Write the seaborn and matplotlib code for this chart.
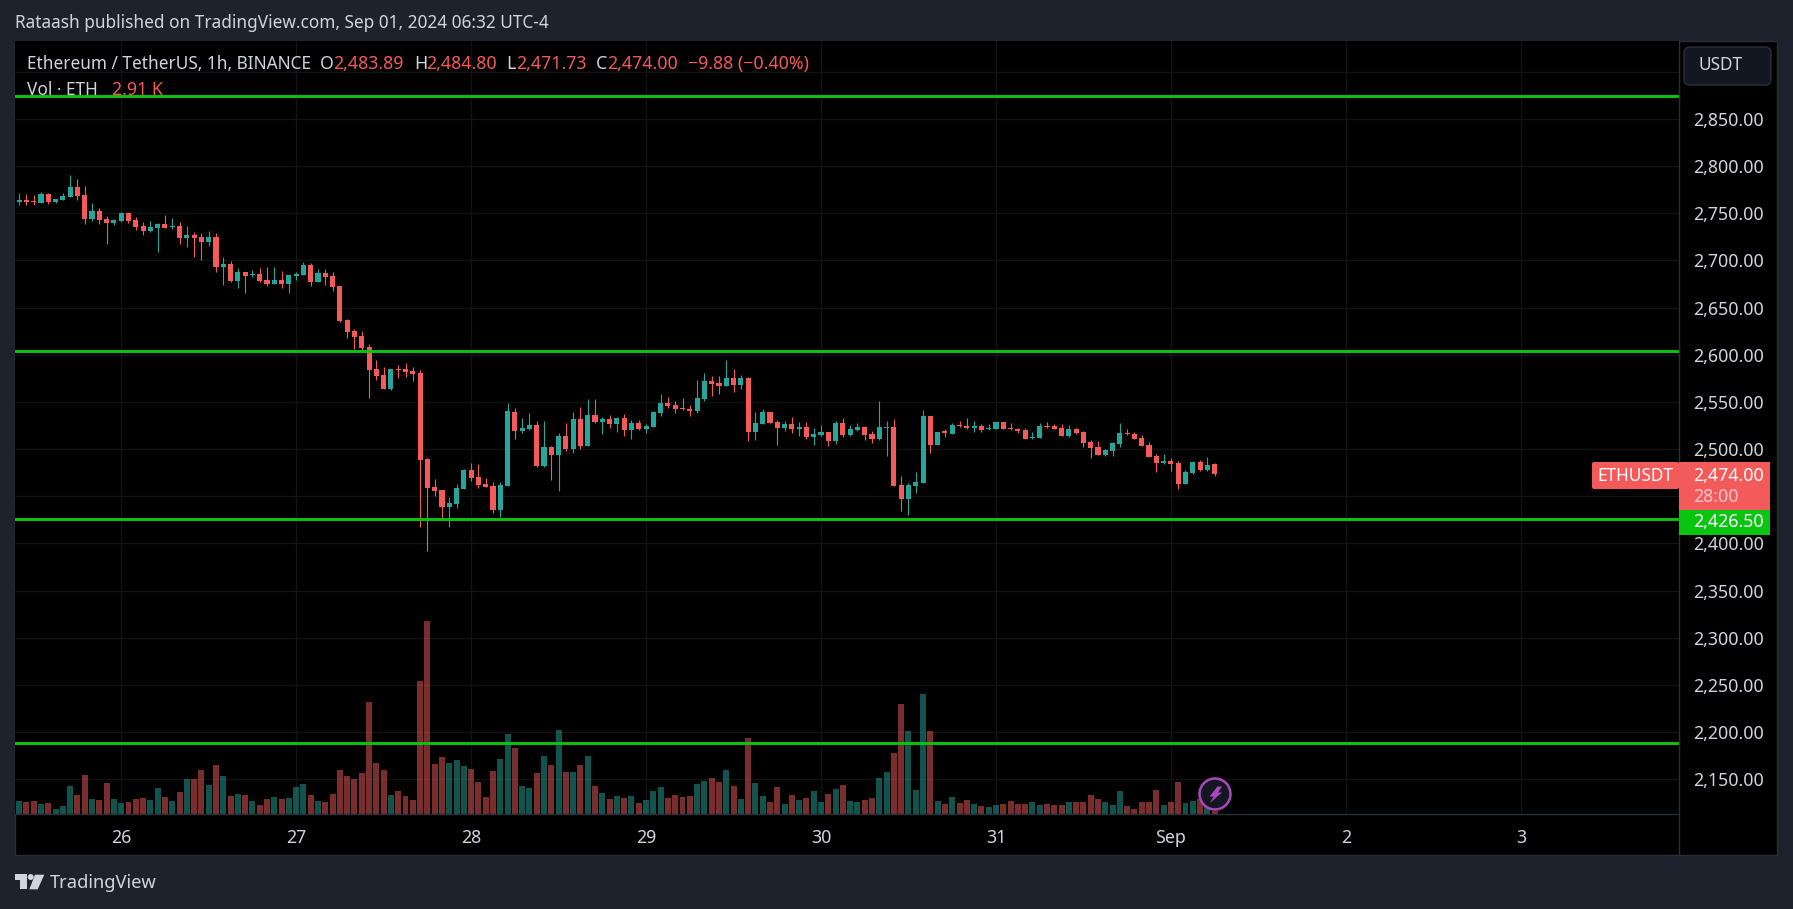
import numpy as np
import pandas as pd
import seaborn as sns
import matplotlib.pyplot as plt
from matplotlib.patches import Rectangle, FancyBboxPatch, Circle, Polygon
from matplotlib.transforms import Affine2D

W, H = 1793, 909
BG = "#1e222d"
RED = "#f45a5a"
TEAL = "#26a69a"
LEVEL = "#0ac50f"
TXT = "#d1d4dc"

# hourly candles
opens = [2762, 2764.1, 2763, 2760.9, 2770.4, 2762, 2764.1, 2767.3, 2777.9, 2769.4, 2743.9, 2752.4, 2743.9, 2739.7, 2741.8,
         2750.3, 2742.9, 2736.5, 2731.2, 2734.4, 2738.6, 2735.4, 2736.5, 2723.8, 2727, 2724.8, 2719.5, 2724.8, 2693, 2696.2,
         2678.2, 2687.7, 2684.5, 2685.6, 2679.2, 2675, 2679.2, 2675, 2683.5, 2684.5, 2695.2, 2677.1, 2686.7, 2683.5, 2672.9,
         2636.8, 2625.2, 2619.9, 2608.2, 2584.8, 2578.5, 2563.6, 2584.8, 2584.8, 2582.7, 2580.6, 2489.4, 2459.7, 2456.5, 2438.5,
         2441.7, 2457.6, 2477.7, 2470.3, 2462.9, 2460.8, 2435.3, 2460.8, 2539.2, 2519.1, 2521.2, 2525.5, 2482, 2502.1, 2493.6,
         2513.8, 2500, 2531.8, 2503.2, 2536.1, 2528.6, 2531.8, 2526.5, 2532.9, 2520.2, 2527.6, 2521.2, 2523.3, 2538.2, 2548.8,
         2546.7, 2543.5, 2542.4, 2540.3, 2553, 2572.1, 2570, 2566.8, 2575.3, 2567.9, 2575.3, 2518, 2526.5, 2539.2, 2528.6,
         2522.3, 2526.5, 2521.2, 2523.3, 2512.7, 2514.9, 2518, 2508.5, 2527.6, 2514.9, 2520.2, 2523.3, 2515.9, 2510.6, 2522.3,
         2523.3, 2461.8, 2447, 2460.8, 2464, 2535, 2504.3, 2519.1, 2515.9, 2525.5, 2524.4, 2522.3, 2524.4, 2521.2, 2521.2,
         2528.6, 2522.3, 2521.2, 2520.2, 2511.7, 2511.7, 2524.4, 2524.4, 2522.3, 2513.8, 2521.2, 2518.1, 2507.5, 2502.2, 2493.7,
         2497.9, 2505.3, 2517, 2515.9, 2511.7, 2504.3, 2492.6, 2485.2, 2487.3, 2485.2, 2462.9, 2474.6, 2486.2, 2477.8, 2483.89]
highs = [2771.9, 2770.4, 2769.4, 2772.6, 2771.5, 2765.1, 2771.5, 2790.6, 2786.4, 2778.9, 2760.9, 2755.6, 2747.1, 2743.9, 2751.4,
         2750.3, 2746.1, 2740.7, 2741.8, 2739.7, 2748.2, 2745, 2740.7, 2736.5, 2730.1, 2729.1, 2731.2, 2729.1, 2703.6, 2699.4,
         2692, 2687.7, 2689.8, 2692, 2693, 2693, 2688.8, 2684.5, 2687.7, 2698.3, 2697.3, 2690.9, 2690.9, 2687.7, 2672.9,
         2637.9, 2627.3, 2625.2, 2611.4, 2594.4, 2587, 2584.8, 2589.1, 2591.2, 2587, 2583.8, 2490.5, 2468.2, 2456.5, 2449.1,
         2462.9, 2478.8, 2485.2, 2484.1, 2469.2, 2465, 2465, 2548.8, 2543.5, 2532.9, 2538.2, 2529.7, 2529.7, 2503.2, 2517,
         2527.6, 2539.2, 2544.5, 2553, 2553, 2533.9, 2536.1, 2533.9, 2537.1, 2530.8, 2530.8, 2526.5, 2540.3, 2558.3, 2555.2,
         2550.9, 2554.1, 2546.7, 2573.2, 2580.6, 2577.4, 2577.4, 2594.4, 2584.9, 2578.5, 2576.4, 2539.2, 2542.4, 2539.2, 2530.8,
         2529.7, 2533.9, 2528.6, 2528.6, 2522.3, 2525.5, 2518, 2529.7, 2532.9, 2525.5, 2527.6, 2524.4, 2519.1, 2550.9, 2529.7,
         2531.8, 2471.4, 2464, 2475.6, 2541.4, 2535, 2518.1, 2521.2, 2527.6, 2529.7, 2532.9, 2529.7, 2526.5, 2526.5, 2528.6,
         2528.6, 2527.6, 2522.3, 2522.3, 2518.1, 2527.6, 2528.6, 2526.5, 2526.5, 2525.5, 2522.3, 2519.1, 2509.6, 2508.5, 2500,
         2507.5, 2527.6, 2521.2, 2518.1, 2514.9, 2507.5, 2494.7, 2494.7, 2490.5, 2487.3, 2477.8, 2487.3, 2488.4, 2491.5, 2484.8]
lows = [2758.8, 2758.8, 2758.8, 2760.9, 2759.8, 2760.9, 2764.1, 2767.3, 2764.1, 2738.6, 2741.8, 2738.6, 2717.4, 2737.6, 2740.7,
        2739.7, 2732.3, 2727, 2730.1, 2708.9, 2734.4, 2733.3, 2717.4, 2714.2, 2703.6, 2700.5, 2715.3, 2687.7, 2673.9, 2677.1,
        2670.8, 2665.5, 2682.4, 2677.1, 2672.9, 2675, 2670.8, 2665.5, 2679.2, 2684.5, 2672.9, 2677.1, 2673.9, 2667.6, 2634.7,
        2617.7, 2606.1, 2602.9, 2554.1, 2573.2, 2563.6, 2562.6, 2575.3, 2576.4, 2572.1, 2417.3, 2391.8, 2450.2, 2426.8, 2417.3,
        2437.4, 2457.6, 2466, 2458.6, 2459.7, 2432.1, 2427.9, 2460.8, 2510.6, 2517, 2520.2, 2480.9, 2480.9, 2467.1, 2455.5,
        2497.9, 2495.8, 2500, 2503.2, 2527.6, 2515.9, 2522.3, 2518, 2513.8, 2510.6, 2520.2, 2517, 2523.3, 2535, 2543.5,
        2538.2, 2541.4, 2535, 2538.2, 2550.9, 2556.2, 2558.3, 2566.8, 2560.5, 2563.6, 2508.5, 2509.6, 2526.5, 2527.6, 2504.3,
        2519.1, 2517, 2513.8, 2510.6, 2504.3, 2513.8, 2503.2, 2505.3, 2512.7, 2513.8, 2519.1, 2509.6, 2506.4, 2509.6, 2492.6,
        2460.8, 2434.3, 2430, 2453.3, 2464, 2495.8, 2504.3, 2512.8, 2515.9, 2523.4, 2521.2, 2518.1, 2518.1, 2520.2, 2521.2,
        2521.2, 2520.2, 2517, 2510.6, 2510.6, 2511.7, 2522.3, 2521.2, 2513.8, 2512.8, 2515.9, 2502.2, 2490.5, 2493.7, 2492.6,
        2492.6, 2502.2, 2514.9, 2510.6, 2503.2, 2491.5, 2475.6, 2484.1, 2476.7, 2457.6, 2462.9, 2473.5, 2476.7, 2476.7, 2471.73]
closes = [2764.1, 2762, 2762, 2770.4, 2762, 2765.1, 2768.3, 2777.9, 2768.3, 2743.9, 2752.4, 2742.9, 2739.7, 2742.9, 2750.3,
          2741.8, 2735.4, 2731.2, 2735.4, 2738.6, 2734.4, 2736.5, 2723.8, 2727, 2723.8, 2719.5, 2724.8, 2693, 2696.2, 2678.2,
          2687.7, 2683.5, 2685.6, 2678.2, 2675, 2679.2, 2675, 2684.5, 2685.6, 2695.2, 2677.1, 2686.7, 2682.4, 2671.8, 2635.8,
          2624.1, 2618.9, 2607.2, 2583.8, 2577.4, 2563.6, 2584.8, 2583.8, 2581.7, 2579.5, 2488.3, 2458.6, 2455.5, 2438.5, 2442.7,
          2458.6, 2477.7, 2469.2, 2461.8, 2459.7, 2435.3, 2461.8, 2540.3, 2519.1, 2522.3, 2525.5, 2482, 2502.1, 2493.6, 2513.8,
          2500, 2531.8, 2503.2, 2536.1, 2528.6, 2531.8, 2526.5, 2532.9, 2520.2, 2527.6, 2521.2, 2524.4, 2539.2, 2548.8, 2545.6,
          2542.4, 2542.4, 2540.3, 2554.1, 2572.1, 2568.9, 2566.8, 2575.3, 2567.9, 2575.3, 2518, 2527.6, 2539.2, 2527.6, 2522.3,
          2526.5, 2521.2, 2523.3, 2512.7, 2515.9, 2518, 2508.5, 2527.6, 2514.9, 2521.2, 2523.3, 2514.9, 2510.6, 2523.3, 2523.3,
          2460.8, 2447, 2461.8, 2465, 2535, 2504.3, 2518.1, 2517, 2525.5, 2524.4, 2522.3, 2524.4, 2520.2, 2522.3, 2528.6,
          2521.2, 2521.2, 2519.1, 2510.6, 2512.8, 2524.4, 2523.4, 2521.2, 2513.8, 2521.2, 2517, 2506.4, 2501.1, 2493.7, 2499,
          2506.4, 2517, 2515.9, 2510.6, 2503.2, 2491.5, 2485.2, 2487.3, 2484.1, 2462.9, 2475.6, 2486.2, 2477.8, 2483.1, 2474]
# volume, thousands of ETH
volumes = [11.7, 10.8, 11.7, 9, 9.9, 4.5, 7.2, 25.2, 17.1, 35.1, 13.5, 12.6, 27.9, 13.5, 9.9,
           10.8, 13.5, 14.4, 12.6, 23.4, 15.3, 11.7, 19.8, 31.5, 31.5, 39.6, 26.1, 44.1, 34.2, 16.2,
           18, 17.1, 11.7, 8.1, 13.5, 15.3, 13.5, 14.4, 24.3, 27, 17.1, 11.7, 10.8, 18, 39.6,
           34.2, 31.5, 36.9, 100.8, 45.9, 39.6, 17.1, 20.7, 16.2, 12.6, 119.7, 173.7, 45, 51.3, 45.9,
           48.6, 43.2, 40.5, 28.8, 15.3, 38.7, 49.5, 72, 59.4, 25.2, 23.4, 36.9, 52.2, 44.1, 75.6,
           37.8, 37.8, 44.1, 52.2, 25.2, 18.9, 13.5, 16.2, 14.4, 16.2, 9.9, 12.6, 20.7, 24.3, 14.4,
           17.1, 15.3, 16.2, 27, 29.7, 32.4, 28.8, 39.6, 25.2, 13.5, 68.4, 27.9, 16.2, 10.8, 24.3,
           9, 17.1, 12.6, 14.4, 20.7, 10.8, 18, 22.5, 26.1, 11.7, 10.8, 12.6, 14.4, 32.4, 37.8,
           54.9, 99, 74.7, 21.6, 108, 74.7, 11.7, 9, 15.3, 9.9, 12.6, 9, 7.2, 6.3, 8.1,
           9, 11.7, 9, 9, 10.8, 8.1, 9, 8.1, 8.1, 10.8, 10.8, 10.8, 17.1, 13.5, 10.8,
           8.1, 20.7, 7.2, 4.5, 10.8, 10.8, 21.6, 8.1, 10.8, 28.8, 9.9, 11.7, 13.5, 8.1, 2.91]
levels = [2874.4, 2604, 2425.6, 2188]
price_ticks = [2150, 2200, 2250, 2300, 2350, 2400, 2450, 2500, 2550, 2600, 2650, 2700, 2750, 2800, 2850, 2900]
hidden_ticks = [2450, 2900]  # covered by the scale tags in the reference
day_hours = [0, 24, 48, 72, 96, 120, 144, 168, 192]
day_labels = ["26", "27", "28", "29", "30", "31", "Sep", "2", "3"]

df = pd.DataFrame({"open": opens, "high": highs, "low": lows, "close": closes, "volume": volumes})
df["hour"] = np.arange(len(df)) - 14
df["side"] = np.where(df["close"] >= df["open"], "up", "down")

sns.set_theme(style="dark", rc={"axes.facecolor": "black", "figure.facecolor": BG, "axes.grid": False})
plt.rcParams["font.family"] = ["Noto Sans", "DejaVu Sans"]

fig = plt.figure(figsize=(W / 100, H / 100), dpi=100)
screen = Affine2D().scale(1, -1).translate(0, H)  # pixel coords, y going down


def label(x, y, s, color=TXT, size=12.8, ha="left"):
    fig.text(x, y + 2, s, color=color, fontsize=size, ha=ha, va="center", transform=screen, zorder=20)


# black panel with the price and time scale strips
fig.add_artist(Rectangle((15, 41), 1762, 814, transform=screen, fc="black", ec="#2a2e39", lw=1, zorder=0))

rect = [15 / W, (H - 814) / H, (1679 - 15) / W, (814 - 41) / H]
ax_grid = fig.add_axes(rect, zorder=1)
ax_vol = fig.add_axes(rect, zorder=2)
ax = fig.add_axes(rect, zorder=3)
xlim = (-14.57, 213.7)
ylim = (2113, 2932.7)

ax_grid.set_xlim(xlim)
ax_grid.set_ylim(ylim)
ax_grid.set_xticks(day_hours, day_labels)
ax_grid.set_yticks(price_ticks, ["" if p in hidden_ticks else f"{p:,.2f}" for p in price_ticks])
ax_grid.yaxis.tick_right()
ax_grid.grid(True, color="#121316", lw=1)
ax_grid.tick_params(axis="y", length=0, pad=10, labelsize=12.8, colors=TXT)
ax_grid.tick_params(axis="x", length=0, pad=11, labelsize=12.8, colors=TXT)
sns.despine(ax=ax_grid, left=True, bottom=True, right=True, top=True)

sns.barplot(data=df, x="hour", y="volume", hue="side", palette={"up": TEAL, "down": RED}, native_scale=True,
            dodge=False, width=0.82, saturation=1, alpha=0.5, errorbar=None, legend=False, linewidth=0, ax=ax_vol)
ax_vol.set_xlim(xlim)
ax_vol.set_ylim(0, 695.7)
ax_vol.patch.set_visible(False)
ax_vol.axis("off")

for side, col in [("up", TEAL), ("down", RED)]:
    d = df[df["side"] == side]
    ax.vlines(d["hour"], d["low"], d["high"], color=col, lw=0.8)
    ax.bar(d["hour"], (d["close"] - d["open"]).abs().clip(lower=0.9), bottom=d[["open", "close"]].min(axis=1),
           width=0.7, color=col, lw=0)
for lv in levels:
    ax.axhline(lv, color=LEVEL, lw=2.1)
ax.set_xlim(xlim)
ax.set_ylim(ylim)
ax.patch.set_visible(False)
ax.axis("off")

# scale separators
fig.add_artist(plt.Line2D([15, 1679], [814, 814], transform=screen, color="#2a2e39", lw=1, zorder=5))
fig.add_artist(plt.Line2D([1679, 1679], [41, 855], transform=screen, color="#2a2e39", lw=1, zorder=5))

# header and legend
label(15, 21, "Rataash published on TradingView.com, Sep 01, 2024 06:32 UTC-4", size=12.4)
label(27, 62, "Ethereum / TetherUS, 1h, BINANCE", size=12.4)
for x, s in [(320, "O"), (414.5, "H"), (506, "L"), (596, "C")]:
    label(x, 62, s)
for x, s in [(333, "2,483.89"), (426, "2,484.80"), (516, "2,471.73"), (607, "2,474.00"), (688, "−9.88 (−0.40%)")]:
    label(x, 62, s, color=RED)
label(27, 88, "Vol · ETH", size=12.4)
label(112, 88, "2.91 K", color=RED)

# scale tags
fig.add_artist(FancyBboxPatch((1684, 47), 87, 38, boxstyle="round,pad=0,rounding_size=6", transform=screen,
                              fc="#131722", ec="#2a2e39", lw=1, zorder=10))
label(1699, 63, "USDT", size=12.4)
fig.add_artist(FancyBboxPatch((1592, 462), 87, 27, boxstyle="round,pad=0,rounding_size=2", transform=screen,
                              fc=RED, lw=0, zorder=10))
fig.add_artist(Rectangle((1679, 462), 91, 47.5, transform=screen, fc=RED, lw=0, zorder=10))
fig.add_artist(Rectangle((1679, 509.5), 91, 25.5, transform=screen, fc=LEVEL, lw=0, zorder=10))
label(1635, 474, "ETHUSDT", color="white", ha="center", size=12.4)
label(1693, 474, "2,474.00", color="white")
label(1693, 495, "28:00", color="#fdc8cc")
label(1693, 520, "2,426.50", color="white")

# lightning badge
fig.add_artist(Circle((1215, 794), 15.5, transform=screen, fc="#131722", ec="#ab47bc", lw=1.8, zorder=10))
fig.add_artist(Polygon([(1217.5, 786.5), (1222, 786.5), (1218, 792.5), (1222, 792.5), (1210, 803), (1213.5, 796.5), (1209.5, 796.5)],
                       transform=screen, fc="#ab47bc", lw=0, zorder=11))

# logo
for pts in [[(15, 874), (26.7, 874), (26.7, 889.3), (20, 889.3), (20, 880), (15, 880)],
            [(35, 874.7), (44.3, 874.7), (37.7, 889.3), (29.3, 889.3)]]:
    fig.add_artist(Polygon(pts, transform=screen, fc=TXT, lw=0, zorder=10))
fig.add_artist(Circle((30.7, 877), 3, transform=screen, fc=TXT, lw=0, zorder=10))
label(49.5, 881.5, "TradingView", size=13.2)

fig.savefig("out.png", dpi=100, facecolor=BG)
